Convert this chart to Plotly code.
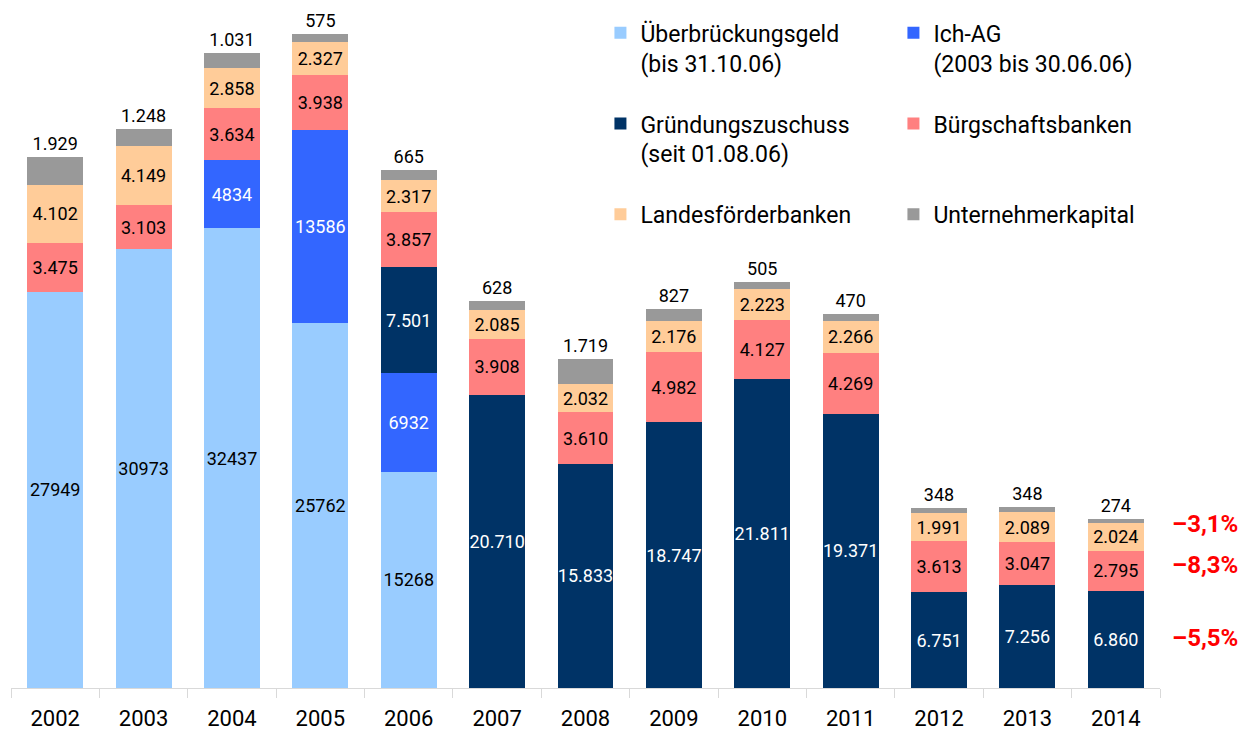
import plotly.graph_objects as go

years = ["2002", "2003", "2004", "2005", "2006", "2007", "2008", "2009", "2010", "2011", "2012", "2013", "2014"]
ueberbrueckung = [27949, 30973, 32437, 25762, 15268, None, None, None, None, None, None, None, None]
ich_ag = [None, None, 4834, 13586, 6932, None, None, None, None, None, None, None, None]
gruendung = [None, None, None, None, 7501, 20710, 15833, 18747, 21811, 19371, 6751, 7256, 6860]
buergschaft = [3475, 3103, 3634, 3938, 3857, 3908, 3610, 4982, 4127, 4269, 3613, 3047, 2795]
landes = [4102, 4149, 2858, 2327, 2317, 2085, 2032, 2176, 2223, 2266, 1991, 2089, 2024]
unternehmer = [1929, 1248, 1031, 575, 665, 628, 1719, 827, 505, 470, 348, 348, 274]
changes = ["–3,1%", "–8,3%", "–5,5%"]

FONT = "Roboto"


def plain(vals):
    return ["" if v is None else str(v) for v in vals]


def dotted(vals):
    return ["" if v is None else f"{v:,}".replace(",", ".") for v in vals]


series = [
    ("Überbrückungsgeld<br>(bis 31.10.06)", ueberbrueckung, "#99CCFF", "black", plain, "legend"),
    ("Ich-AG<br>(2003 bis 30.06.06)", ich_ag, "#3366FF", "white", plain, "legend2"),
    ("Gründungszuschuss<br>(seit 01.08.06)", gruendung, "#003366", "white", dotted, "legend"),
    ("Bürgschaftsbanken<br>&nbsp;", buergschaft, "#FF8080", "black", dotted, "legend2"),
    ("Landesförderbanken<br>&nbsp;", landes, "#FFCC99", "black", dotted, "legend"),
]

fig = go.Figure()
for i, (name, vals, color, tcol, fmt, lg) in enumerate(series):
    fig.add_trace(go.Bar(
        x=years, y=vals, name=name, marker_color=color, marker_line_width=0,
        text=fmt(vals), textposition="inside", insidetextanchor="middle",
        textangle=0, insidetextfont=dict(family=FONT, size=18, color=tcol),
        legend=lg, legendgroup=f"g{i}", hoverinfo="skip",
    ))

fig.add_trace(go.Bar(
    x=years, y=unternehmer, name="Unternehmerkapital<br>&nbsp;", marker_color="#999999",
    marker_line_width=0, text=dotted(unternehmer), textposition="outside",
    textangle=0, outsidetextfont=dict(family=FONT, size=18, color="black"),
    cliponaxis=False, legend="legend2", legendgroup="g5", hoverinfo="skip",
))

ann_y = [0.2455, 0.1841, 0.0749]
for txt, yy in zip(changes, ann_y):
    fig.add_annotation(text=f"<b>{txt}</b>", xref="paper", yref="paper", x=1.039, y=yy,
                       xanchor="center", yanchor="middle", showarrow=False,
                       font=dict(family=FONT, size=24, color="#FF0000"))

legend_common = dict(
    orientation="v", yanchor="top", xanchor="left", valign="top", y=1.013,
    font=dict(family=FONT, size=23, color="black"), tracegroupgap=28,
    bgcolor="rgba(0,0,0,0)", itemclick=False, itemdoubleclick=False,
)

fig.update_layout(
    width=1242, height=726,
    margin=dict(l=3, r=90, t=12, b=46),
    barmode="stack", bargap=0.367,
    plot_bgcolor="white", paper_bgcolor="white",
    font=dict(family=FONT, color="black"),
    uniformtext=dict(minsize=18, mode="show"),
    showlegend=True,
    legend=dict(x=0.513, **legend_common),
    legend2=dict(x=0.768, **legend_common),
    xaxis=dict(
        type="category", showline=True, linecolor="#D9D9D9", linewidth=1,
        ticks="outside", tickson="boundaries", ticklen=9, tickcolor="#D9D9D9",
        ticklabelstandoff=11,
        tickfont=dict(family=FONT, size=22, color="black"), showgrid=False,
        fixedrange=True,
    ),
    yaxis=dict(visible=False, range=[0, 47142], fixedrange=True),
)

fig.write_html("out.html")
